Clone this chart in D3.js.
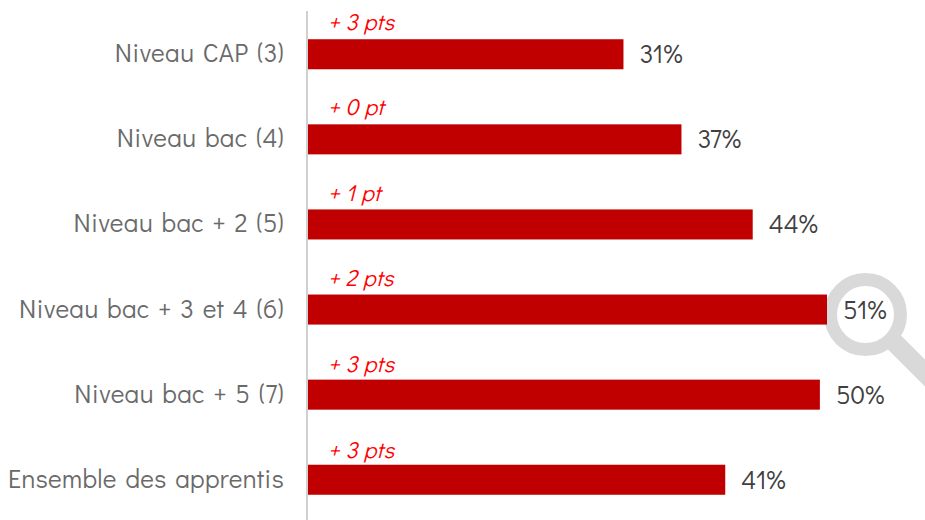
<!DOCTYPE html>
<html><head><meta charset="utf-8"><script src="https://cdn.jsdelivr.net/npm/d3@7"></script>
<style>html,body{margin:0;background:#fff}svg{display:block}</style></head><body><svg id="c" width="925" height="520"></svg>
<script>
const categories=["Niveau CAP (3)","Niveau bac (4)","Niveau bac + 2 (5)","Niveau bac + 3 et 4 (6)","Niveau bac + 5 (7)","Ensemble des apprentis"];
const values=[31,36.7,43.7,51,50.3,41];
const shownLabels=["31%","37%","44%","51%","50%","41%"];
const changes=["+ 3 pts","+ 0 pt","+ 1 pt","+ 2 pts","+ 3 pts","+ 3 pts"];
const font="'Century Gothic','Didact Gothic','Open Sans',Lato,sans-serif";
const svg=d3.select("#c");
const x=d3.scaleLinear().domain([0,51]).range([308,827]);
const y=d3.scaleBand().domain(categories).range([12,522]).paddingInner(0.647).paddingOuter(0.32);
const yChange=d3.scalePoint().domain(categories).range([29.5,457.5]);
const cy=y(categories[3])+y.bandwidth()/2;
// magnifier sits behind the bars
svg.append("line").attr("x1",894).attr("y1",342).attr("x2",945).attr("y2",393).attr("stroke","#d9d9d9").attr("stroke-width",19);
svg.append("circle").attr("cx",865.5).attr("cy",cy+5).attr("r",35).attr("fill","#fff").attr("stroke","#d9d9d9").attr("stroke-width",13);
svg.append("line").attr("x1",307).attr("x2",307).attr("y1",11).attr("y2",520).attr("stroke","#d0d0d0").attr("stroke-width",2);
const g=svg.selectAll("g.r").data(categories).join("g");
g.append("rect").attr("x",x(0)).attr("y",d=>y(d)).attr("height",y.bandwidth()).attr("width",(d,i)=>x(values[i])-x(0)).attr("fill","#c00000");
g.append("text").attr("x",284).attr("y",d=>y(d)+y.bandwidth()/2+8).attr("text-anchor","end").attr("font-family",font).attr("font-size",26).attr("letter-spacing",0.3).attr("word-spacing",2.5).attr("fill","#6a6a6a").text(d=>d);
g.append("text").attr("x",328).attr("y",d=>yChange(d)).attr("font-family",font).attr("font-style","italic").attr("font-size",23).attr("letter-spacing",0.4).attr("fill","#ff0000").text((d,i)=>changes[i]);
g.append("text").attr("x",(d,i)=>x(values[i])+16).attr("y",d=>y(d)+y.bandwidth()/2+9).attr("font-family",font).attr("font-size",26).attr("letter-spacing",0.1).attr("fill","#404040").text((d,i)=>shownLabels[i]);
</script></body></html>
